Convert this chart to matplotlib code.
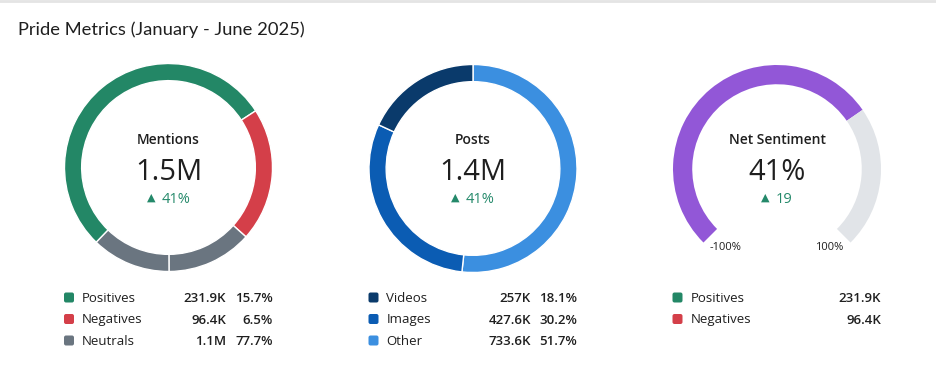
import matplotlib
matplotlib.use('Agg')
import matplotlib.pyplot as plt
from matplotlib.patches import FancyBboxPatch
from matplotlib.lines import Line2D

plt.rcParams['font.family'] = ['Open Sans', 'DejaVu Sans']

title = 'Pride Metrics (January - June 2025)'

# Mentions
mentions_labels = ['Positives', 'Negatives', 'Neutrals']
mentions_values = ['231.9K', '96.4K', '1.1M']
mentions_pcts = ['15.7%', '6.5%', '77.7%']
# arc shares as drawn in the reference (neutral arc is split at the bottom)
mentions_arc = [53.6, 20.8, 13.3, 12.3]
mentions_total = '1.5M'
mentions_change = '41%'

# Posts
posts_labels = ['Videos', 'Images', 'Other']
posts_values = ['257K', '427.6K', '733.6K']
posts_pcts = [18.1, 30.2, 51.7]
posts_total = '1.4M'
posts_change = '41%'

# Net sentiment
sent_labels = ['Positives', 'Negatives']
sent_values = ['231.9K', '96.4K']
sent_score = 41
sent_min, sent_max = -100, 100
sent_change = '19'

GREEN = '#238766'
RED = '#d43f49'
GRAY = '#6a7580'
NAVY = '#0a3a6b'
BLUE = '#0b5cb3'
LIGHT = '#3b8fe0'
PURPLE = '#9257d7'
TRACK = '#e1e4e8'
UP = '#24896a'
TXT = '#1f1f1f'

W, H = 936, 366
fig = plt.figure(figsize=(W / 100, H / 100), dpi=100)
fig.add_artist(Line2D([0, 1], [1 - 1 / H, 1 - 1 / H], color='#e4e4e4', lw=2))


def ring_ax(cx, cy, r=104):
    ax = fig.add_axes([(cx - r) / W, 1 - (cy + r) / H, 2 * r / W, 2 * r / H])
    return ax


# donuts
ax1 = ring_ax(168.5, 167.5)
ax1.pie(mentions_arc, colors=[GREEN, RED, GRAY, GRAY], startangle=226, counterclock=False,
        wedgeprops=dict(width=0.165, edgecolor='white', linewidth=1))
ax2 = ring_ax(473, 168.5)
ax2.pie(posts_pcts[::-1], colors=[LIGHT, BLUE, NAVY], startangle=90, counterclock=False,
        wedgeprops=dict(width=0.165, edgecolor='white', linewidth=1))
ax3 = ring_ax(777, 169)
span = sent_max - sent_min
ax3.pie([sent_score - sent_min, sent_max - sent_score, span / 3],
        colors=[PURPLE, TRACK, 'none'], startangle=225, counterclock=False,
        wedgeprops=dict(width=0.185, linewidth=0))
for a in (ax1, ax2, ax3):
    a.set_xlim(-1, 1)
    a.set_ylim(-1, 1)

# overlay in pixel coordinates
ov = fig.add_axes([0, 0, 1, 1])
ov.set_xlim(0, W)
ov.set_ylim(H, 0)
ov.axis('off')

ov.text(18, 35, title, fontsize=13.2, color=TXT, family=['Lato', 'DejaVu Sans'])

centers = [(168.5, 'Mentions', mentions_total, mentions_change),
           (473, 'Posts', posts_total, posts_change),
           (777, 'Net Sentiment', f'{sent_score}%', sent_change)]
fig.canvas.draw()
rend = fig.canvas.get_renderer()
for cx, lab, big, chg in centers:
    ov.text(cx, 144, lab, ha='center', va='baseline', fontsize=10, weight='semibold', color=TXT)
    ov.text(cx, 179.5, big, ha='center', va='baseline', fontsize=21, color=TXT)
    t = ov.text(0, 203, chg, ha='left', va='baseline', fontsize=10.5, color=UP)
    w = t.get_window_extent(rend).width
    total = 15 + w
    left = cx - total / 2
    t.set_x(left + 15)
    ov.text(left + 4.5, 197.5, '▲', ha='center', va='center', fontsize=8, color=UP,
            family='DejaVu Sans')

# gauge end labels
ov.text(725, 250, '-100%', ha='center', va='baseline', fontsize=8, color=TXT)
ov.text(829, 250, '100%', ha='center', va='baseline', fontsize=8, color=TXT)

rows = [302, 323.5, 345]


def legend(sq_x, lab_x, labels, colors, values, val_r, pcts=None, pct_r=None):
    for i, lab in enumerate(labels):
        y = rows[i]
        ov.add_patch(FancyBboxPatch((sq_x + 1, y - 9.5 + 1), 8, 8,
                                    boxstyle='round,pad=1,rounding_size=2',
                                    fc=colors[i], ec='none'))
        ov.text(lab_x, y, lab, va='baseline', fontsize=9.5, color=TXT)
        ov.text(val_r, y, values[i], ha='right', va='baseline', fontsize=9.5,
                weight='semibold', color=TXT)
        if pcts is not None:
            p = pcts[i] if isinstance(pcts[i], str) else f'{pcts[i]}%'
            ov.text(pct_r, y, p, ha='right', va='baseline', fontsize=9.5,
                    weight='semibold', color=TXT)


legend(64, 82, mentions_labels, [GREEN, RED, GRAY], mentions_values, 226, mentions_pcts, 272.5)
legend(368.5, 386.5, posts_labels, [NAVY, BLUE, LIGHT], posts_values, 531, posts_pcts, 577)
legend(672.5, 691, sent_labels, [GREEN, RED], sent_values, 881)

fig.savefig('out.png', dpi=100, facecolor='white')
